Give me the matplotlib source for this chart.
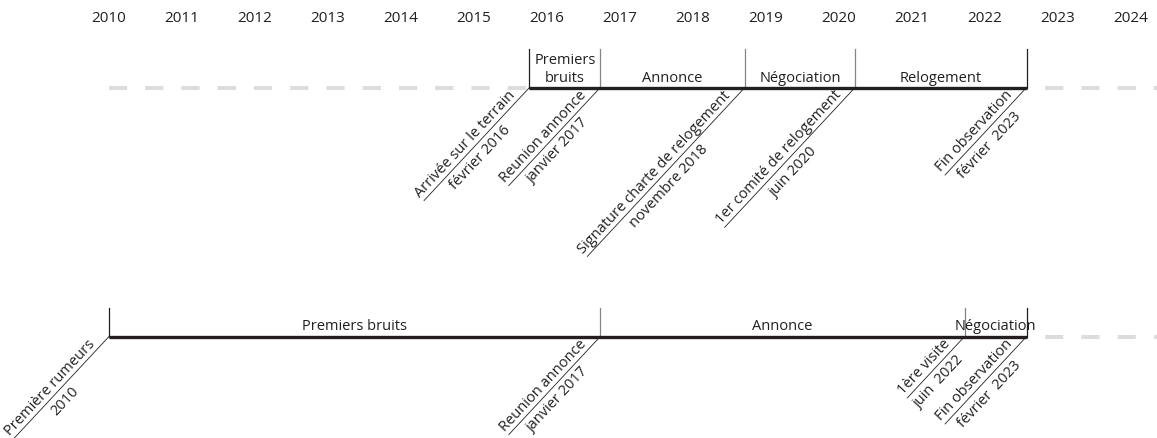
import numpy as np
import matplotlib
matplotlib.use("Agg")
import matplotlib.pyplot as plt
from matplotlib.transforms import offset_copy

plt.rcParams['font.family'] = ['Open Sans', 'DejaVu Sans']

INK = '#231f20'
GREY_TICK = '#858585'
DASH = '#dcdcdc'

years = list(range(2010, 2025))

# timeline 1 (haut) : observation de terrain
top_dates = [2015.76, 2016.73, 2018.71, 2020.22, 2022.57]
top_events = ["Arrivée sur le terrain", "Reunion annonce",
              "Signature charte de relogement", "1er comité de relogement",
              "Fin observation"]
top_when = ["février 2016", "janvier 2017", "novembre 2018", "juin 2020",
            "février  2023"]
top_phases = ["Premiers\nbruits", "Annonce", "Négociation", "Relogement"]

# timeline 2 (bas)
bot_dates = [2010.0, 2016.73, 2021.72, 2022.57]
bot_events = ["Première rumeurs", "Reunion annonce", "1ère visite",
              "Fin observation"]
bot_when = ["2010", "janvier 2017", "juin  2022", "février  2023"]
bot_phases = ["Premiers bruits", "Annonce", "Négociation"]

fig = plt.figure(figsize=(11.57, 4.39), dpi=100)
ax = fig.add_axes([0, 0, 1, 1])
# 73 px par an, 2010 a x=109 px
ax.set_xlim(2010 - 109 / 73, 2010 + (1157 - 109) / 73)
ax.set_ylim(439, 0)
ax.axis('off')

renderer = fig.canvas.get_renderer()
ANGLE = 47
ca, sa = np.cos(np.radians(ANGLE)), np.sin(np.radians(ANGLE))
FS = 10.5

for yr in years:
    ax.text(yr, 18, str(yr), ha='center', va='center', fontsize=11, color=INK)


def label_event(x, y, first, second):
    t = ax.text(0, 0, first, fontsize=FS)
    w = t.get_window_extent(renderer).width * 72 / fig.dpi
    t.remove()
    pad = 10.5
    c = pad + w / 2
    cx, cy = -c * ca, -c * sa
    g1, g2 = 1.0, 2.8
    ax.text(x, y, first, fontsize=FS, color=INK, rotation=ANGLE,
            rotation_mode='anchor', ha='center', va='bottom',
            transform=offset_copy(ax.transData, fig, x=cx - g1 * sa,
                                  y=cy + g1 * ca, units='points'))
    ax.text(x, y, second, fontsize=FS, color=INK, rotation=ANGLE,
            rotation_mode='anchor', ha='center', va='top',
            transform=offset_copy(ax.transData, fig, x=cx + g2 * sa,
                                  y=cy - g2 * ca, units='points'))
    L = pad + w
    ax.annotate('', xy=(x, y), xytext=(-L * ca, -L * sa),
                textcoords='offset points',
                arrowprops=dict(arrowstyle='-', lw=0.6, color=INK,
                                shrinkA=0, shrinkB=0))


def draw_timeline(y, tick_top, dates, phases, events, when):
    # periodes hors observation en tirets gris
    if dates[0] > years[0]:
        ax.plot([years[0], dates[0]], [y + 0.8, y + 0.8], color=DASH, lw=2.9,
                linestyle=(0, (4.5, 4.5)), dash_capstyle='butt')
    ax.plot([dates[-1], ax.get_xlim()[1]], [y, y], color=DASH, lw=2.9,
            linestyle=(4.5, (4.5, 4.5)), dash_capstyle='butt')
    ax.plot([dates[0], dates[-1]], [y, y], color=INK, lw=2.4,
            solid_capstyle='butt', zorder=3)
    for i, d in enumerate(dates):
        c = INK if i in (0, len(dates) - 1) else GREY_TICK
        ax.plot([d, d], [tick_top, y], color=c, lw=0.9, zorder=2)
    for i, p in enumerate(phases):
        ax.text((dates[i] + dates[i + 1]) / 2, y - 7, p, ha='center',
                va='baseline', fontsize=FS, color=INK, linespacing=1.2)
    for d, e, w in zip(dates, events, when):
        label_event(d, y, e, w)


draw_timeline(88.5, 50, top_dates, top_phases, top_events, top_when)
draw_timeline(337.5, 309, bot_dates, bot_phases, bot_events, bot_when)

fig.savefig('out.png', dpi=100)
